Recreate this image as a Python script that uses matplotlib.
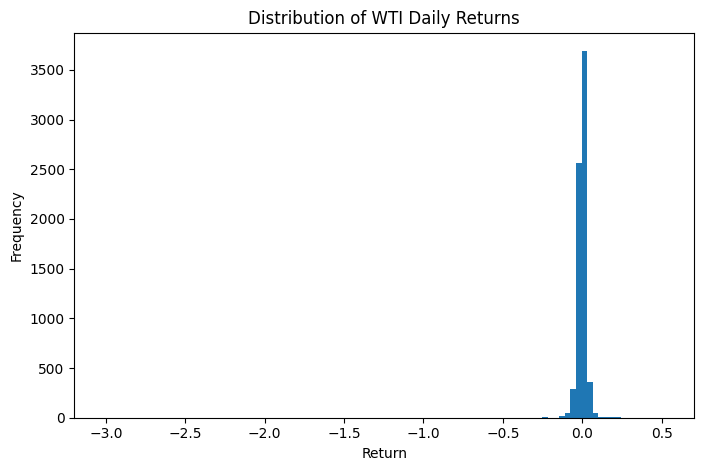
"""Histogram of WTI daily returns (100 bins), rebuilt from read-off bin counts."""

import matplotlib
matplotlib.use('Agg')
import matplotlib.pyplot as plt

# histogram range and bin count
ret_min = -3.0215
ret_max = 0.5285
n_bins = 100

# non-empty bins: bin index and count
bin_index = [0, 78, 81, 82, 83, 84, 85, 86, 87, 88, 89, 90, 91, 99]
bin_count = [1, 8, 12, 52, 288, 2562, 3690, 358, 50, 10, 9, 8, 7, 1]


def plot():
  width = (ret_max - ret_min) / n_bins
  centers = [ret_min + (k + 0.5) * width for k in bin_index]

  fig = plt.figure(figsize=(7.04, 4.70), dpi=100)
  ax = fig.add_axes([0.1055, 0.1113, 0.8807, 0.8191])
  ax.hist(centers, bins=n_bins, range=(ret_min, ret_max), weights=bin_count)
  ax.set_title('Distribution of WTI Daily Returns')
  ax.set_xlabel('Return')
  ax.set_ylabel('Frequency')
  fig.savefig('out.png', dpi=100)


if __name__ == '__main__':
  plot()
